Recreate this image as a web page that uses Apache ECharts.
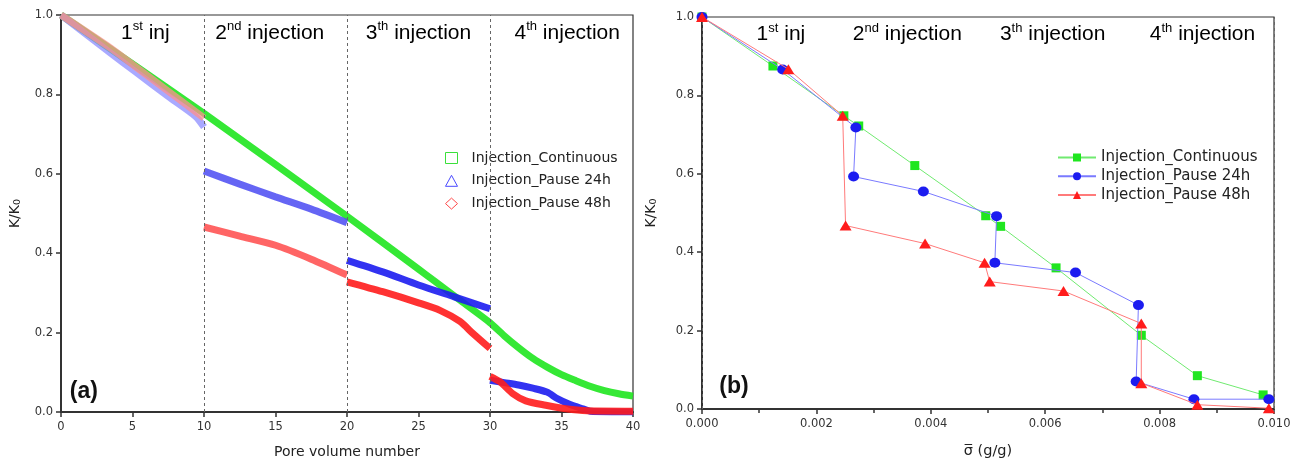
<!DOCTYPE html>
<html>
<head>
<meta charset="utf-8">
<script src="https://cdn.jsdelivr.net/npm/echarts@6/dist/echarts.min.js"></script>
<style>html,body{margin:0;padding:0;background:#fff;}#c{width:1309px;height:464px;}</style>
</head>
<body>
<div id="c"></div>
<script>
// ---------- DATA ----------
const seriesNames = ['Injection_Continuous', 'Injection_Pause 24h', 'Injection_Pause 48h'];

// (a) K/K0 vs pore volume number
const contPV = [[0,1.0],[10,0.752],[20,0.493],[25,0.36],[26,0.333],[28,0.279],[30,0.225],[31,0.192],[32,0.162],[33,0.135],[34,0.113],[35,0.094],[36,0.079],[37,0.065],[38,0.054],[39,0.046],[40,0.04]];
const p24Seg1 = [[0,1.0],[3.5,0.903],[5.2,0.857],[7.5,0.795],[9.4,0.745],[10,0.718]];
const p24Seg2 = [[10,0.607],[12.5,0.574],[15,0.542],[17.5,0.511],[20,0.477]];
const p24Seg3 = [[20,0.382],[22.5,0.353],[25,0.32],[27.5,0.29],[30,0.26]];
const p24Seg4 = [[30,0.08],[31,0.074],[32,0.068],[33,0.06],[34,0.05],[34.7,0.034],[35.6,0.019],[36.5,0.008],[37,0.002],[40,0.0]];
const p48Seg1 = [[0,1.0],[3.5,0.916],[5.2,0.870],[7.5,0.808],[9.8,0.746],[10,0.74]];
const p48Seg2 = [[10,0.466],[12.5,0.443],[15,0.42],[17.5,0.385],[20,0.345]];
const p48Seg3 = [[20,0.328],[22.5,0.303],[25,0.275],[26.5,0.256],[27.9,0.228],[28.8,0.198],[30,0.16]];
const p48Seg4 = [[30,0.09],[30.7,0.076],[31.6,0.046],[32.5,0.028],[33.9,0.017],[35.3,0.008],[36.8,0.003],[40,0.002]];

// (b) K/K0 vs sigma (g/g)
const contSigma = [[0,1.0],[0.00124,0.875],[0.00248,0.748],[0.00274,0.722],[0.00372,0.621],[0.00496,0.493],[0.00522,0.466],[0.00619,0.360],[0.00768,0.188],[0.00866,0.085],[0.00981,0.036]];
const p24Sigma = [[0,1.0],[0.00141,0.866],[0.00269,0.718],[0.00265,0.593],[0.00387,0.555],[0.00515,0.492],[0.00512,0.373],[0.00653,0.348],[0.00763,0.265],[0.00759,0.070],[0.0086,0.025],[0.00991,0.025]];
const p48Sigma = [[0,1.0],[0.00151,0.867],[0.00246,0.748],[0.00251,0.468],[0.0039,0.422],[0.00494,0.373],[0.00503,0.325],[0.00632,0.301],[0.00768,0.218],[0.00768,0.066],[0.00866,0.011],[0.00991,0.002]];

const leftBoundaries = [10, 20, 30];
const rightBoundaries = [0.00242, 0.00489, 0.00752];

const sectionNum = ['1', '2', '3', '4'];
const sectionSup = ['st', 'nd', 'th', 'th'];
const sectionRest = [' inj', ' injection', ' injection', ' injection'];
const leftSectionX = [5.9, 14.6, 25.0, 35.4];
const rightSectionX = [0.00138, 0.00359, 0.00613, 0.00875];
const sectionY = 0.955;

const leftXTicks = { min: 0, max: 40, interval: 5 };
const rightXTicks = { min: 0, max: 0.010, interval: 0.002 };
const yTicks = { min: 0, max: 1.0, interval: 0.2 };

// ---------- STYLE ----------
const F = 'DejaVu Sans';
const green = '#1fe61f', blue = '#1c1cf0', red = '#ff1c1c';
const axisCommon = {
  axisLine: { show: true, onZero: false, lineStyle: { color: '#333', width: 2 } },
  axisTick: { show: true, length: 5, lineStyle: { color: '#333', width: 1.5 } },
  splitLine: { show: false },
  axisLabel: { color: '#333', fontFamily: F, fontSize: 11.5 }
};

function band(name, data, color, opacity, z) {
  return { type: 'line', name: name, xAxisIndex: 0, yAxisIndex: 0, data: data, showSymbol: false, symbol: 'none',
    smooth: 0.25, z: z, lineStyle: { color: color, width: 7, opacity: opacity, cap: 'butt' }, itemStyle: { color: color },
    emphasis: { disabled: true }, animation: false };
}
function pts(name, data, color, lineColor, symbol, size, z) {
  return { type: 'line', name: name, xAxisIndex: 1, yAxisIndex: 1, data: data, symbol: symbol, symbolSize: size, z: z,
    showSymbol: true, lineStyle: { color: lineColor, width: 1 }, itemStyle: { color: color },
    emphasis: { disabled: true }, animation: false };
}

const rightSeries = [
  Object.assign(pts(seriesNames[0], contSigma, green, '#70ea70', 'rect', 9, 3), {
    markLine: { silent: true, symbol: 'none', label: { show: false }, animation: false,
      lineStyle: { type: [3, 3], color: '#666', width: 1 }, data: rightBoundaries.map(v => ({ xAxis: v })) } }),
  pts(seriesNames[1], p24Sigma, blue, '#7a7aff', 'circle', [11, 10], 4),
  pts(seriesNames[2], p48Sigma, red, '#ff7a7a', 'triangle', [12, 10], 5)
];
const leftSeries = [
  Object.assign(band(seriesNames[0], contPV, green, 0.9, 2), {
    markLine: { silent: true, symbol: 'none', label: { show: false }, animation: false,
      lineStyle: { type: [3, 3], color: '#666', width: 1 }, data: leftBoundaries.map(v => ({ xAxis: v })) } }),
  band(seriesNames[1], p24Seg1, '#8c8cff', 0.75, 3),
  band(seriesNames[1], p24Seg2, '#4a4af2', 0.85, 3),
  band(seriesNames[1], p24Seg3, blue, 0.9, 3),
  band(seriesNames[1], p24Seg4, blue, 0.9, 3),
  band(seriesNames[2], p48Seg1, '#ff8f8f', 0.75, 4),
  band(seriesNames[2], p48Seg2, '#ff4a4a', 0.85, 4),
  band(seriesNames[2], p48Seg3, red, 0.9, 4),
  band(seriesNames[2], p48Seg4, red, 0.9, 4)
];

const yName = { rich: { a: { fontFamily: F, fontSize: 14, color: '#222' }, s: { fontFamily: F, fontSize: 9.5, color: '#222', verticalAlign: 'bottom', padding: [6, 0, 0, 0] } } };

const chart = echarts.init(document.getElementById('c'), null, { renderer: 'canvas' });
chart.setOption({
  backgroundColor: '#fff',
  animation: false,
  grid: [
    { left: 61, top: 15, width: 572, height: 397, show: true, borderColor: '#333', borderWidth: 1.2, backgroundColor: 'transparent', containLabel: false },
    { left: 702, top: 17, width: 572, height: 393, show: true, borderColor: '#333', borderWidth: 1.2, backgroundColor: 'transparent', containLabel: false }
  ],
  xAxis: [
    Object.assign({}, axisCommon, { type: 'value', gridIndex: 0, min: leftXTicks.min, max: leftXTicks.max, interval: leftXTicks.interval,
      name: 'Pore volume number', nameLocation: 'middle', nameGap: 33,
      nameTextStyle: { fontFamily: F, fontSize: 14, color: '#222' },
      axisLabel: Object.assign({}, axisCommon.axisLabel, { margin: 9 }) }),
    Object.assign({}, axisCommon, { type: 'value', gridIndex: 1, min: rightXTicks.min, max: rightXTicks.max, interval: rightXTicks.interval,
      name: '\u03C3\u0305 (g/g)', nameLocation: 'middle', nameGap: 35,
      nameTextStyle: { fontFamily: F, fontSize: 14.5, color: '#222' },
      minorTick: { show: true, splitNumber: 2, length: 4, lineStyle: { color: '#333', width: 1.5 } },
      axisLabel: Object.assign({}, axisCommon.axisLabel, { margin: 9, formatter: v => v.toFixed(3) }) })
  ],
  yAxis: [
    Object.assign({}, axisCommon, { type: 'value', gridIndex: 0, min: yTicks.min, max: yTicks.max, interval: yTicks.interval,
      name: '{a|K/K}{s|0}', nameLocation: 'middle', nameGap: 38, nameTextStyle: yName,
      axisLabel: Object.assign({}, axisCommon.axisLabel, { margin: 8, formatter: v => v.toFixed(1) }) }),
    Object.assign({}, axisCommon, { type: 'value', gridIndex: 1, min: yTicks.min, max: yTicks.max, interval: yTicks.interval,
      name: '{a|K/K}{s|0}', nameLocation: 'middle', nameGap: 43, nameTextStyle: yName,
      axisLabel: Object.assign({}, axisCommon.axisLabel, { margin: 8, formatter: v => v.toFixed(1) }) })
  ],
  legend: [
    { orient: 'vertical', left: 440, top: 146, itemWidth: 12, itemHeight: 11, itemGap: 8.8, selectedMode: false,
      textStyle: { fontFamily: F, fontSize: 14, color: '#222', padding: [0, 0, 0, 9] },
      data: [
        { name: seriesNames[0], icon: 'rect', itemStyle: { color: 'rgba(0,0,0,0)', borderColor: '#3be03b', borderWidth: 1 } },
        { name: seriesNames[1], icon: 'triangle', itemStyle: { color: 'rgba(0,0,0,0)', borderColor: '#4a4aff', borderWidth: 1 } },
        { name: seriesNames[2], icon: 'diamond', itemStyle: { color: 'rgba(0,0,0,0)', borderColor: '#ff4a4a', borderWidth: 1 } }
      ] },
    { orient: 'vertical', left: 1052, top: 145, itemWidth: 38, itemHeight: 10, itemGap: 3.8, selectedMode: false,
      textStyle: { fontFamily: F, fontSize: 15, color: '#222' },
      data: seriesNames.slice() }
  ],
  series: rightSeries.concat(leftSeries)
});

// section headings and panel tags (positions converted from data coordinates)
const rich = {
  b: { fontFamily: 'Liberation Sans', fontSize: 21, color: '#111', lineHeight: 26 },
  s: { fontFamily: 'Liberation Sans', fontSize: 13, color: '#111', lineHeight: 14, verticalAlign: 'top' }
};
const graphics = [];
function addSections(gridIndex, xs) {
  xs.forEach((xv, i) => {
    const p = chart.convertToPixel({ gridIndex: gridIndex }, [xv, sectionY]);
    graphics.push({ type: 'text', x: p[0], y: p[1], z: 50, silent: true,
      style: { text: '{b|' + sectionNum[i] + '}{s|' + sectionSup[i] + '}{b|' + sectionRest[i] + '}', rich: rich, align: 'center', verticalAlign: 'middle' } });
  });
}
addSections(0, leftSectionX);
addSections(1, rightSectionX);
const tagA = chart.convertToPixel({ gridIndex: 0 }, [1.6, 0.052]);
const tagB = chart.convertToPixel({ gridIndex: 1 }, [0.00056, 0.056]);
graphics.push({ type: 'text', x: tagA[0], y: tagA[1], z: 50, silent: true, style: { text: '(a)', fontFamily: 'Liberation Sans', fontWeight: 'bold', fontSize: 23, fill: '#111', align: 'center', verticalAlign: 'middle' } });
graphics.push({ type: 'text', x: tagB[0], y: tagB[1], z: 50, silent: true, style: { text: '(b)', fontFamily: 'Liberation Sans', fontWeight: 'bold', fontSize: 23, fill: '#111', align: 'center', verticalAlign: 'middle' } });
chart.setOption({ graphic: graphics });
</script>
</body>
</html>
